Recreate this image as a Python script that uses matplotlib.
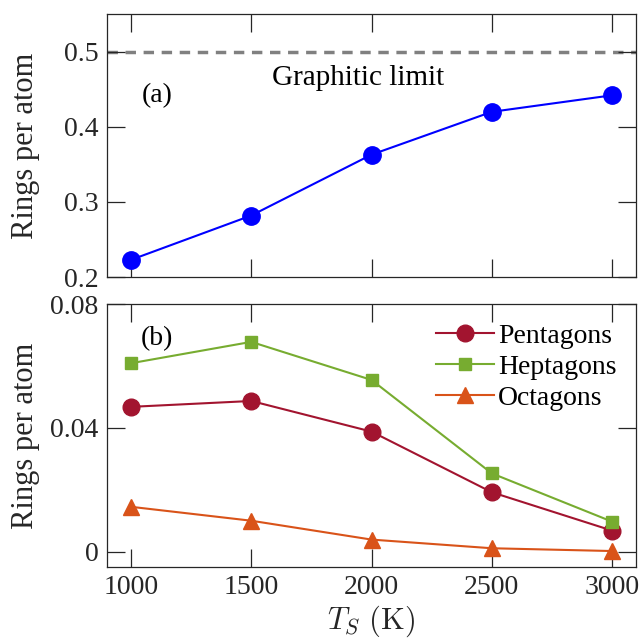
import matplotlib
matplotlib.use("Agg")
import matplotlib.pyplot as plt

plt.rcParams['font.family'] = ['Liberation Serif', 'DejaVu Serif']
plt.rcParams['mathtext.fontset'] = 'cm'

temps = [1000, 1500, 2000, 2500, 3000]
total_rings = [0.223, 0.282, 0.363, 0.420, 0.442]
graphitic_limit = 0.5
pentagons = [0.0468, 0.0487, 0.0388, 0.0192, 0.0068]
heptagons = [0.0609, 0.0678, 0.0555, 0.0253, 0.0097]
octagons = [0.0145, 0.0100, 0.0039, 0.0011, 0.0002]
xticks = [1000, 1500, 2000, 2500, 3000]
yticks_top = [0.2, 0.3, 0.4, 0.5]
yticks_bot = [0, 0.04, 0.08]
ytick_labels_bot = ['0', '0.04', '0.08']

fig = plt.figure(figsize=(6.4, 6.43), dpi=100)
ax1 = fig.add_axes([0.167, 0.569, 0.827, 0.409])
ax2 = fig.add_axes([0.167, 0.118, 0.827, 0.409])

spine_c = '#262626'
for ax in (ax1, ax2):
    ax.set_xlim(900, 3100)
    ax.set_xticks(xticks)
    ax.tick_params(direction='in', length=13, width=0.9, top=True, right=True,
                   labelsize=20, colors=spine_c, pad=6)
    for s in ax.spines.values():
        s.set_color(spine_c)
        s.set_linewidth(0.9)

ax1.axhline(graphitic_limit, color='#808080', ls=(0, (3, 2.2)), lw=2.5, zorder=1)
ax1.plot(temps, total_rings, '-o', color='#0000ff', lw=1.5, ms=12.5, zorder=3)
ax1.set_ylim(0.2, 0.55)
ax1.set_yticks(yticks_top)
ax1.set_yticklabels(['0.2', '0.3', '0.4', '0.5'])
ax1.tick_params(labelbottom=False)
ax1.set_ylabel('Rings per atom', fontsize=22, color=spine_c)
ax1.text(0.474, 0.758, 'Graphitic limit', transform=ax1.transAxes, fontsize=21,
         ha='center', va='center')
ax1.text(0.095, 0.69, '(a)', transform=ax1.transAxes, fontsize=20,
         ha='center', va='center')

ax2.plot(temps, pentagons, '-o', color='#a2142f', lw=1.5, ms=12, label='Pentagons')
ax2.plot(temps, heptagons, '-s', color='#77ac30', lw=1.5, ms=9, label='Heptagons')
ax2.plot(temps, octagons, '-^', color='#d95319', lw=1.5, ms=12, label='Octagons')
ax2.set_ylim(-0.005, 0.08)
ax2.set_yticks(yticks_bot)
ax2.set_yticklabels(ytick_labels_bot)
ax2.set_ylabel('Rings per atom', fontsize=22, color=spine_c)
ax2.set_xlabel(r'$T_S\ \mathrm{(K)}$', fontsize=22, color=spine_c, labelpad=2)
ax2.text(0.095, 0.87, '(b)', transform=ax2.transAxes, fontsize=20,
         ha='center', va='center')
ax2.legend(loc='upper right', frameon=False, fontsize=20, handlelength=2.1,
           handletextpad=0.15, labelspacing=0.2, borderaxespad=0.2,
           bbox_to_anchor=(0.995, 0.99))

for ax in (ax1, ax2):
    ax.yaxis.set_label_coords(-0.127, 0.5)

fig.savefig('out.png', dpi=100)
